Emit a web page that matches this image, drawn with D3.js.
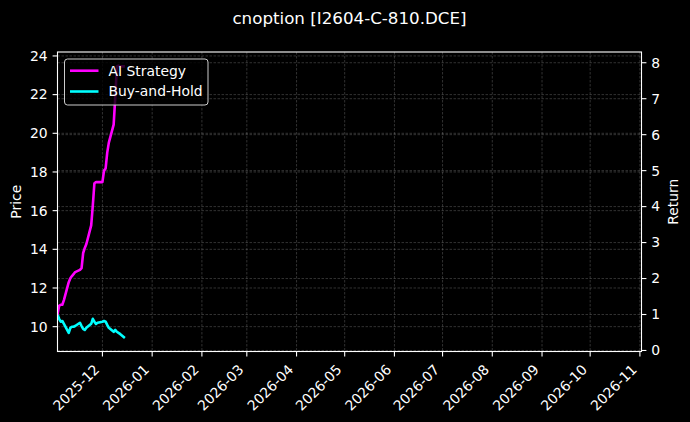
<!DOCTYPE html>
<html>
<head>
<meta charset="utf-8">
<script src="https://cdn.jsdelivr.net/npm/d3@7"></script>
<style>
  html, body { margin: 0; padding: 0; background: #000; }
  svg { display: block; font-family: "DejaVu Sans", sans-serif; }
</style>
</head>
<body>
<svg id="chart" width="690" height="422"></svg>
<script>
// trading days shown in the chart
const dates = [
  '2025-11-03','2025-11-04','2025-11-05','2025-11-06','2025-11-07',
  '2025-11-10','2025-11-11','2025-11-12','2025-11-13','2025-11-14',
  '2025-11-17','2025-11-18','2025-11-19','2025-11-20','2025-11-21',
  '2025-11-24','2025-11-25','2025-11-26','2025-11-27','2025-11-28',
  '2025-12-01','2025-12-02','2025-12-03','2025-12-04','2025-12-05',
  '2025-12-08','2025-12-09','2025-12-10','2025-12-11','2025-12-12',
  '2025-12-15'
];

const aiReturn = [
  1.00, 1.24, 1.27, 1.27, 1.40,
  1.90, 2.01, 2.07, 2.12, 2.18,
  2.24, 2.29, 2.71, 2.85, 2.96,
  3.48, 4.03, 4.65, 4.68, 4.68,
  4.68, 5.00, 5.06, 5.50, 5.78,
  6.28, 7.03, 7.89, 7.92, 7.90,
  7.90
];

const bhReturn = [
  1.00, 0.88, 0.80, 0.82, 0.74,
  0.49, 0.63, 0.66, 0.66, 0.68,
  0.77, 0.68, 0.60, 0.57, 0.63,
  0.74, 0.88, 0.80, 0.74, 0.77,
  0.80, 0.82, 0.80, 0.71, 0.63,
  0.52, 0.57, 0.52, 0.49, 0.46,
  0.35
];

// price axis extent (underlying series not visible)
const priceExtent = [9.42, 23.5];
const priceTicks = [10, 12, 14, 16, 18, 20, 22, 24];
const returnTicks = [0, 1, 2, 3, 4, 5, 6, 7, 8];
const xDomain = ['2025-11-03', '2026-11-02'];
const monthTicks = ['2025-12-01', '2026-01-01', '2026-02-01', '2026-03-01',
  '2026-04-01', '2026-05-01', '2026-06-01', '2026-07-01', '2026-08-01',
  '2026-09-01', '2026-10-01', '2026-11-01'];

const seriesNames = ['AI Strategy', 'Buy-and-Hold'];
const seriesColors = { 'AI Strategy': '#ff00ff', 'Buy-and-Hold': '#00ffff' };

const parse = d3.timeParse('%Y-%m-%d');

const svg = d3.select('#chart');
const W = 690, H = 422;
const m = { left: 57.5, right: 641.5, top: 52, bottom: 351.5 };
const fs = 13.9;
const tickLen = 4.9;

const pad = ext => {
  const r = ext[1] - ext[0];
  return [ext[0] - 0.05 * r, ext[1] + 0.05 * r];
};

const x = d3.scaleTime()
  .domain(xDomain.map(parse))
  .range([m.left, m.right]);

const yPrice = d3.scaleLinear()
  .domain(pad(priceExtent))
  .range([m.bottom, m.top]);

const retAll = aiReturn.concat(bhReturn);
const yRet = d3.scaleLinear()
  .domain(pad(d3.extent(retAll)))
  .range([m.bottom, m.top]);

svg.append('rect').attr('width', W).attr('height', H).attr('fill', '#000');

const xTicks = monthTicks.map(parse);

// grid
const grid = svg.append('g')
  .attr('stroke', '#ffffff')
  .attr('stroke-opacity', 0.28)
  .attr('stroke-width', 0.7)
  .attr('stroke-dasharray', '2.5,1.5');

grid.selectAll('line.vx').data(xTicks).enter().append('line')
  .attr('x1', d => x(d)).attr('x2', d => x(d))
  .attr('y1', m.top).attr('y2', m.bottom);

grid.selectAll('line.hp').data(priceTicks).enter().append('line')
  .attr('x1', m.left).attr('x2', m.right)
  .attr('y1', d => yPrice(d)).attr('y2', d => yPrice(d));

grid.selectAll('line.hr').data(returnTicks).enter().append('line')
  .attr('x1', m.left).attr('x2', m.right)
  .attr('y1', d => yRet(d)).attr('y2', d => yRet(d));

// lines
svg.append('clipPath').attr('id', 'clip')
  .append('rect')
  .attr('x', m.left).attr('y', m.top)
  .attr('width', m.right - m.left).attr('height', m.bottom - m.top);

const series = [
  { name: 'Buy-and-Hold', values: bhReturn },
  { name: 'AI Strategy', values: aiReturn }
];

const line = d3.line()
  .x(d => x(d.date))
  .y(d => yRet(d.v));

series.forEach(s => {
  const pts = dates.map((d, i) => ({ date: parse(d), v: s.values[i] }));
  svg.append('path')
    .datum(pts)
    .attr('clip-path', 'url(#clip)')
    .attr('fill', 'none')
    .attr('stroke', seriesColors[s.name])
    .attr('stroke-width', 2.6)
    .attr('stroke-linejoin', 'round')
    .attr('d', line);
});

// frame
svg.append('rect')
  .attr('x', m.left).attr('y', m.top)
  .attr('width', m.right - m.left).attr('height', m.bottom - m.top)
  .attr('fill', 'none')
  .attr('stroke', '#fff')
  .attr('stroke-width', 1.1);

// left axis
const leftAxis = svg.append('g');
priceTicks.forEach(t => {
  const yy = yPrice(t);
  leftAxis.append('line')
    .attr('x1', m.left - tickLen).attr('x2', m.left)
    .attr('y1', yy).attr('y2', yy)
    .attr('stroke', '#fff').attr('stroke-width', 1.1);
  leftAxis.append('text')
    .attr('x', m.left - tickLen - 4.9)
    .attr('y', yy)
    .attr('dy', '0.35em')
    .attr('text-anchor', 'end')
    .attr('fill', '#fff')
    .attr('font-size', fs)
    .text(t);
});

// right axis
const rightAxis = svg.append('g');
returnTicks.forEach(t => {
  const yy = yRet(t);
  rightAxis.append('line')
    .attr('x1', m.right).attr('x2', m.right + tickLen)
    .attr('y1', yy).attr('y2', yy)
    .attr('stroke', '#fff').attr('stroke-width', 1.1);
  rightAxis.append('text')
    .attr('x', m.right + tickLen + 4.9)
    .attr('y', yy)
    .attr('dy', '0.35em')
    .attr('fill', '#fff')
    .attr('font-size', fs)
    .text(t);
});

// bottom axis
const fmt = d3.timeFormat('%Y-%m');
const bottomAxis = svg.append('g');
xTicks.forEach(t => {
  const xx = x(t);
  bottomAxis.append('line')
    .attr('x1', xx).attr('x2', xx)
    .attr('y1', m.bottom).attr('y2', m.bottom + tickLen)
    .attr('stroke', '#fff').attr('stroke-width', 1.1);
  const px = xx - 5.7;
  const py = m.bottom + tickLen + 4.9 + 5.7;
  bottomAxis.append('text')
    .attr('transform', `translate(${px},${py}) rotate(-45)`)
    .attr('dy', '0.35em')
    .attr('text-anchor', 'end')
    .attr('fill', '#fff')
    .attr('font-size', fs)
    .text(fmt(t));
});

// axis titles
svg.append('text')
  .attr('transform', `translate(21,${(m.top + m.bottom) / 2}) rotate(-90)`)
  .attr('text-anchor', 'middle')
  .attr('fill', '#fff')
  .attr('font-size', fs)
  .text('Price');

svg.append('text')
  .attr('transform', `translate(678,${(m.top + m.bottom) / 2}) rotate(-90)`)
  .attr('text-anchor', 'middle')
  .attr('fill', '#fff')
  .attr('font-size', fs)
  .text('Return');

svg.append('text')
  .attr('x', (m.left + m.right) / 2)
  .attr('y', 24)
  .attr('text-anchor', 'middle')
  .attr('fill', '#fff')
  .attr('font-size', 16.7)
  .text('cnoption [I2604-C-810.DCE]');

// legend
const lg = svg.append('g');
lg.append('rect')
  .attr('x', 64.5).attr('y', 59)
  .attr('width', 143.5).attr('height', 46)
  .attr('rx', 3)
  .attr('fill', '#000').attr('fill-opacity', 0.8)
  .attr('stroke', '#cccccc').attr('stroke-width', 1);

seriesNames.forEach((name, i) => {
  const yy = 70.7 + i * 20.8;
  lg.append('line')
    .attr('x1', 70).attr('x2', 98.5)
    .attr('y1', yy).attr('y2', yy)
    .attr('stroke', seriesColors[name])
    .attr('stroke-width', 2.6);
  lg.append('text')
    .attr('x', 108.5).attr('y', yy)
    .attr('dy', '0.35em')
    .attr('fill', '#fff')
    .attr('font-size', fs)
    .text(name);
});
</script>
</body>
</html>
